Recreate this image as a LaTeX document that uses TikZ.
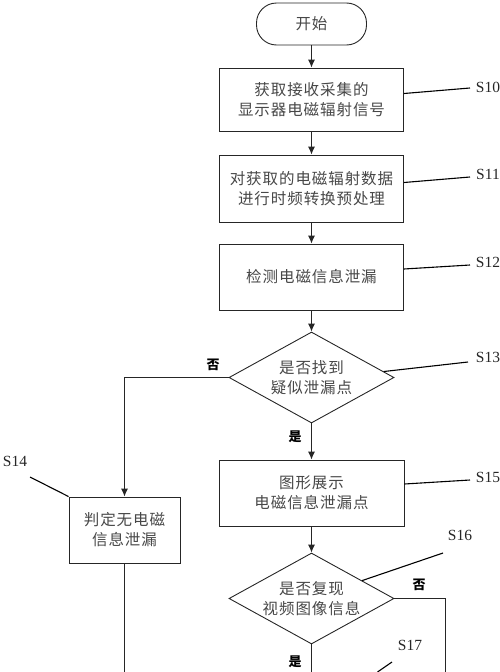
\documentclass[tikz,border=0pt]{standalone}
\usepackage{fontspec}
\setmainfont{Liberation Serif}
\newfontfamily\cjk[LetterSpace=6]{Noto Sans CJK SC}
\newfontfamily\cjkb{Noto Sans CJK SC}
\usetikzlibrary{shapes.geometric,arrows.meta,calc}
\newcommand\cjktext{\cjk\fontsize{15.5}{20}\selectfont}
\newcommand\cjkbold{\cjkb\bfseries\fontsize{13}{15}\selectfont}
\newcommand\steplabel{\fontsize{15.5}{18}\selectfont}
\begin{document}
\begin{tikzpicture}[x=1pt,y=-1pt,
  ln/.style={line width=0.9pt, draw=black!85},
  box/.style={ln, rectangle, minimum width=184pt, minimum height=66pt, inner sep=0pt, align=center, font=\cjktext, text=black!72},
  term/.style={ln, rectangle, rounded corners=20pt, minimum width=110pt, minimum height=42pt, inner sep=0pt, font=\cjktext, text=black!72},
  dec/.style={ln, diamond, aspect=1.81, minimum width=165pt, minimum height=91pt, inner sep=0pt, align=center, font=\cjktext, text=black!72},
  arr/.style={ln, -{Latex[length=8pt,width=7pt]}},
  lead/.style={line width=1.1pt, draw=black},
  stepl/.style={font=\steplabel, inner sep=0pt, text=black!85},
  yn/.style={font=\cjkbold, inner sep=0pt}]
\useasboundingbox (0,0) rectangle (500,672);

% nodes
\node[term] (start) at (311.5,24) {开始};
\node[box, minimum height=63pt] (s10) at (311.5,99.5) {获取接收采集的\\显示器电磁辐射信号};
\node[box, minimum height=67pt] (s11) at (311.5,188.5) {对获取的电磁辐射数据\\进行时频转换预处理};
\node[box] (s12) at (311.5,277) {检测电磁信息泄漏};
\node[dec] (s13) at (311.5,377.5) {是否找到\\疑似泄漏点};
\node[box, minimum width=111pt] (s14) at (124.5,530) {判定无电磁\\信息泄漏};
\node[box, minimum width=185pt] (s15) at (311.5,493) {图形展示\\电磁信息泄漏点};
\node[dec] (s16) at (311.5,598.5) {是否复现\\视频图像信息};

% yes/no labels
\node[yn] (no13) at (213,365) {否};
\node[yn] (yes13) at (295,437) {是};
\node[yn] (no16) at (419,585) {否};
\node[yn] (yes16) at (295,662) {是};

% step labels
\node[stepl] (l10) at (488,87) {S10};
\node[stepl] (l11) at (488,174) {S11};
\node[stepl] (l12) at (488,262) {S12};
\node[stepl] (l13) at (488,357) {S13};
\node[stepl] (l14) at (15,461) {S14};
\node[stepl] (l15) at (488,477) {S15};
\node[stepl] (l16) at (460,535) {S16};
\node[stepl] (l17) at (410,645) {S17};

% free ends
\coordinate (e14) at (124.5,672);
\coordinate (e16r) at (445,672);
\coordinate (e16b) at (311.5,672);
\coordinate (t10) at (470,88);
\coordinate (t11) at (470,177);
\coordinate (t12) at (470,265);
\coordinate (t13) at (468,362);
\coordinate (t14) at (30,477);
\coordinate (t15) at (470,480);
\coordinate (t16) at (443,553);
\coordinate (t17a) at (392,662);
\coordinate (t17b) at (377.5,672);

% connectors
\draw[arr] (start) -- (s10);
\draw[arr] (s10) -- (s11);
\draw[arr] (s11) -- (s12);
\draw[arr] (s12) -- (s13);
\draw[arr] (s13) -- (s15);
\draw[arr] (s13.west) -| (s14.north);
\draw[ln] (s14.south) -- (e14);
\draw[arr] (s15) -- (s16);
\draw[ln] (s16.east) -| (e16r);
\draw[ln] (s16.south) -- (e16b);

% leaders
\draw[lead] ([yshift=6pt]s10.east) -- (t10);
\draw[lead] ([yshift=6pt]s11.east) -- (t11);
\draw[lead] ([yshift=8pt]s12.east) -- (t12);
\draw[lead] ($(s13.north)!0.87!(s13.east)$) -- (t13);
\draw[lead] (s14.north west) -- (t14);
\draw[lead] ([yshift=9pt]s15.east) -- (t15);
\draw[lead] ($(s16.north)!0.61!(s16.east)$) -- (t16);
\draw[lead] (t17a) -- (t17b);
\end{tikzpicture}
\end{document}
